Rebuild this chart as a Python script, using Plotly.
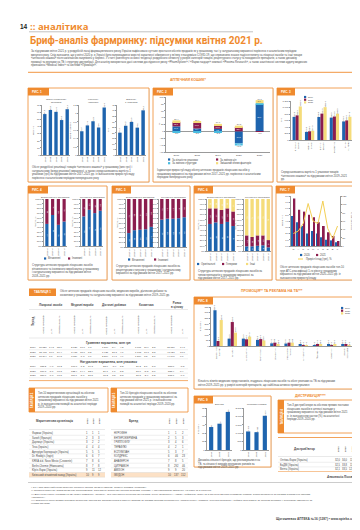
import textwrap
import plotly.graph_objects as go

W, H = 360, 530
FONT = "Liberation Sans"
ORANGE = "#EF8A2E"
ORANGE_LIGHT = "#FCE1C6"
BLUE = "#1E64AE"
MAROON = "#8B1D4E"
YELLOW = "#F5DC7A"
TEAL = "#49BCE0"
TXT = "#4a4a4a"
AXC = "#9a9a9a"
GREY = "#c8c8c8"

# ---------------- DATA ----------------
fig1_years = ["2017", "2018", "2019", "2020", "2021"]
fig1a_values = [57.3, 63.0, 60.4, 48.9, 64.1]
fig1b_values = [0.57, 0.71, 0.81, 0.66, 1.14]
fig1c_values = [20.1, 26.3, 29.8, 24.6, 40.2]

fig2_years = ["2017", "2018", "2019", "2020", "2021"]
fig2_natural = [14.6, 8.4, 7.2, -34.8, 78.6]
fig2_inflation = [12.1, 16.3, 10.5, 12.4, -1.8]
fig2_structure = [-2.6, -3.1, -2.2, -6.3, 3.4]
fig2_mixed = [5.3, 4.8, 4.1, 4.2, 8.9]
fig2_legend = ["За кількістю упаковок", "За зміною цін", "За зміною структури", "Змішаний вплив факторів"]

fig3_cats = ["Лікарські<br>засоби", "Медичні<br>вироби", "Дієтичні<br>добавки", "Косметика", "Ринок<br>в цілому"]
fig3_series = ["2019", "2020", "2021"]
fig3_2019 = [712, 248, 708, 688, 571]
fig3_2020 = [758, 268, 812, 722, 603]
fig3_2021 = [1032, 284, 1011, 809, 714]

fig4_years = ["2018 р.", "2019 р.", "2020 р.", "2021 р."]
fig4a_domestic = [47, 66, 45, 52]
fig4b_domestic = [63, 77, 70, 75]
fig45_legend = ["Вітчизняні", "Іноземні"]

fig5_years = ["2017 р.", "2018 р.", "2019 р.", "2020 р.", "2021 р."]
fig5a_domestic = [29, 35, 36, 37, 42]
fig5b_domestic = [57, 59, 59, 60, 62]

fig6_years = ["2017 р.", "2018 р.", "2019 р.", "2020 р.", "2021 р."]
fig6a_s1 = [52, 55, 52, 56, 48]
fig6a_s2 = [30, 27, 27, 26, 28]
fig6b_s1 = [9, 9, 10, 11, 7]
fig6b_s2 = [21, 18, 20, 19, 14]
fig6_legend = ["Оригінальні", "Генерики", "Інші"]

fig7_cats = ["N", "A", "R", "C", "M", "J", "G", "D", "B", "L"]
fig7_2020 = [4.8, 3.8, 3.2, 2.0, 2.4, 2.0, 1.4, 1.0, 0.9, 0.6]
fig7_2021 = [7.6, 5.8, 5.5, 5.0, 4.6, 3.8, 3.2, 2.2, 1.6, 0.8]
fig7_growth = [30, 36, 54, 102, 60, 54, 108, 42, 18, 48]

fig8_cats = ["Засоби від<br>застуди", "Вітаміни", "Анальгетики", "Противірусні", "Пробіотики",
             "Гепатопро-<br>тектори", "Антисептики", "Ферменти", "Седативні", "Засоби<br>від кашлю"]
fig8_2019 = [321, 66, 66, 55, 24, 22, 18, 8, 12, 12]
fig8_2020 = [45, 215, 60, 62, 30, 30, 6, 14, 8, 10]
fig8_2021 = [233, 120, 84, 50, 15, 30, 4, 18, 12, 8]

fig9_years = ["2019", "2020", "2021"]
fig9a_values = [41, 47, 68]
fig9b_values = [1104, 1062, 2037]

tab1_groups = ["Лікарські засоби", "Медичні вироби", "Дієтичні добавки", "Косметика", "Ринок<br>в цілому"]
tab1_sub = ["Обсяг продажів", "Δ, %", "Питома вага, %"]
tab1_uah = [
    ["2019", "30 526", "14,8", "85,6", "2 620", "10,6", "7,3", "1 509", "8,4", "4,2", "1 001", "11,9", "2,8", "35 656", "14,1"],
    ["2020", "35 405", "16,0", "84,4", "3 433", "31,0", "8,2", "1 921", "27,3", "4,6", "1 168", "16,7", "2,8", "41 927", "17,6"],
    ["2021", "37 894", "7,0", "84,8", "3 389", "-1,3", "7,6", "2 204", "14,7", "4,9", "1 209", "3,5", "2,7", "44 696", "6,6"],
]
tab1_packs = [
    ["2019", "388,2", "-4,6", "70,2", "107,0", "-1,2", "19,3", "28,6", "-3,9", "5,2", "29,2", "2,1", "5,3", "553,0", "-3,5"],
    ["2020", "376,3", "-3,1", "67,8", "122,4", "14,4", "22,0", "29,1", "1,7", "5,2", "27,6", "-5,5", "5,0", "555,4", "0,4"],
    ["2021", "350,0", "-7,0", "67,5", "111,7", "-8,7", "21,5", "30,2", "3,8", "5,8", "26,8", "-2,9", "5,2", "518,7", "-6,6"],
]

tab_years = ["2021", "2020", "2019"]
tab2_names = ["Фармак (Україна)", "Sanofi (Франція)", "Дарниця (Україна)", "Teva (Ізраїль)",
              "Артеріум Корпорація (Україна)", "Dr. Reddy's (Індія)", "KRKA d.d. Novo Mesto (Словенія)",
              "Berlin-Chemie (Німеччина)", "Юрія-Фарм (Україна)", "Київський вітамінний завод (Україна)"]
tab2_c1 = [1, 2, 3, 4, 5, 6, 7, 8, 9, 10]
tab2_c2 = [1, 3, 2, 4, 5, 6, 8, 7, 11, 9]
tab2_c3 = [1, 3, 2, 4, 5, 7, 6, 8, 12, 9]

tab3_names = ["НУРОФЕН", "ЕНТЕРОЖЕРМІНА", "ГРИППОФЛУ", "ТЕРАФЛЮ", "ЕСПУМІЗАН",
              "КОЛДРЕКС", "АНАФЕРОН", "ЦИТРАМОН", "АМІЗОН", "ІМУДОН"]
tab3_c1 = [1, 2, 3, 4, 5, 6, 7, 8, 9, 10]
tab3_c2 = [1, 5, 4, 2, 3, 46, 8, 292, 9, 137]
tab3_c3 = [2, 3, 6, 1, 7, 23, 5, 46, 20, 152]

tab4_names = ["Оптіма-Фарм (Україна)", "БаДМ (Україна)", "Вента (Україна)"]
tab4_c1 = ["32,0", "32,5", "32,1"]
tab4_c2 = ["34,0", "33,8", "33,5"]
tab4_c3 = ["11,1", "11,8", "12,0"]

# ---------------- TEXTS ----------------
intro = ("За підсумками квітня 2021 р. у роздрібній ланці фармацевтичного ринку України зафіксовано суттєве зростання "
         "обсягів продажів як у грошовому, так і у натуральному вираженні порівняно з аналогічним періодом минулого року. "
         "Слід зазначити, що у квітні 2020 р. в Україні було запроваджено жорсткі карантинні обмеження у зв'язку з пандемією "
         "COVID-19, що спричинило значне падіння попиту на лікарські засоби та інші товари «аптечного кошика» після ажіотажних "
         "закупівель у березні. У статті розглянуто основні тенденції роздрібного сегменту у розрізі категорій товарів, "
         "рецептурного статусу та походження препаратів, а також динаміку промоції та реклами на ТБ і структуру дистрибуції. "
         "Для аналізу використано дані системи дослідження ринку «PharmXplorer» / «Фармстандарт» компанії «Proxima Research», "
         "а також аналітичної системи аудиту медичних призначень «Medical Index» та системи «Промоція».")
cap1 = ("Обсяг роздрібної реалізації товарів «аптечного кошика» у грошовому (млн грн) і натуральному (млрд упаковок) "
        "вираженні, а також середньозважена вартість 1 упаковки (грн) за підсумками квітня 2017–2021 рр. із зазначенням "
        "приросту/спаду порівняно з аналогічним періодом попереднього року")
cap2 = ("Індикатори приросту/спаду обсягу аптечних продажів лікарських засобів у грошовому вираженні за підсумками квітня "
        "2017–2021 рр. порівняно з аналогічним періодом попереднього року")
cap3 = ("Середньозважена вартість 1 упаковки товарів «аптечного кошика» за підсумками квітня 2019–2021 рр.")
cap4 = ("Структура аптечних продажів лікарських засобів вітчизняного та іноземного виробництва у грошовому і натуральному "
        "вираженні за підсумками квітня 2018–2021 рр.")
cap5 = ("Структура аптечних продажів лікарських засобів за рецептурним статусом у грошовому і натуральному вираженні "
        "за підсумками квітня 2017–2021 рр.")
cap6 = ("Структура аптечних продажів лікарських засобів за типом препаратів у грошовому вираженні за підсумками квітня "
        "2017–2021 рр.")
cap7 = ("Обсяг аптечних продажів лікарських засобів топ-10 груп АТС-класифікації 1-го рівня у грошовому вираженні "
        "за підсумками квітня 2020–2021 рр. із зазначенням приросту/спаду")
cap8 = ("Кількість візитів медичних представників, згадувань лікарських засобів та обсяг реклами на ТБ за підсумками "
        "квітня 2019–2021 рр. у розрізі категорій препаратів, що найбільш активно промотувалися")
cap9 = ("Динаміка кількості брендів, що рекламувалися на ТБ, та кількості виходів рекламних роликів за підсумками "
        "квітня 2019–2021 рр.")
tab1_title = ("Обсяг аптечних продажів лікарських засобів, медичних виробів, дієтичних добавок та косметики у грошовому "
              "та натуральному вираженні за підсумками квітня 2019–2021 рр.")
tab2_note = ("Топ-10 маркетингових організацій за обсягом аптечних продажів лікарських засобів у грошовому вираженні "
             "за підсумками квітня 2021 р. із зазначенням позицій за аналогічні періоди 2019–2020 рр.")
tab3_note = ("Топ-10 брендів лікарських засобів за обсягом аптечних продажів у грошовому вираженні за підсумками "
             "квітня 2021 р. із зазначенням позицій за аналогічні періоди 2019–2020 рр.")
tab4_note = ("Топ-3 дистриб'ютори за обсягом прямих поставок лікарських засобів в аптечні заклади у грошовому "
             "вираженні за підсумками квітня 2021 р. із зазначенням частки (%) за аналогічні періоди 2019–2020 рр.")
footnotes = [
    "* Тут і далі аптечний кошик включає: лікарські засоби, медичні вироби, дієтичні добавки, косметику.",
    "** Промоція включає: візити медичних представників, згадування лікарських засобів лікарями, рекламу у спеціалізованих виданнях, на радіо та в інтернеті.",
    "*** Дані щодо обсягу реклами на ТБ надані компанією «Nielsen», без урахування регіональних каналів; оцінку проведено у «сирих» рейтингах (GRP) "
    "та в кількості виходів рекламних роликів; аналіз проведено за даними аналітичної системи «Промоція».",
    "**** Зазначено обсяг прямих поставок лікарських засобів від дистриб'юторів в аптечні заклади за даними системи дослідження «PharmXplorer» "
    "компанії «Proxima Research»; рейтинг побудовано за обсягом поставок у грошовому вираженні за цінами закупівлі.",
]

# ---------------- HELPERS ----------------
fig = go.Figure()
shapes, annotations, axes_layout = [], [], {}
n_axes = [0]


def X(p):
    return p / W


def Y(p):
    return 1 - p / H


def text(x, y, s, size=2.8, color=TXT, xa="left", ya="top", angle=0, family=FONT, align="left"):
    annotations.append(dict(x=X(x), y=Y(y), xref="paper", yref="paper", text=s, showarrow=False,
                            font=dict(size=size, color=color, family=family), xanchor=xa, yanchor=ya,
                            textangle=angle, align=align, borderpad=0))


def para(x, y, width, s, size=2.8, color=TXT, factor=0.53):
    n = max(10, int(width / (size * factor)))
    text(x, y, "<br>".join(textwrap.wrap(s, n)), size=size, color=color)


def rect(x0, y0, x1, y1, line=None, fill=None, lw=0.7, layer="below"):
    shapes.append(dict(type="rect", xref="paper", yref="paper", x0=X(x0), x1=X(x1), y0=Y(y1), y1=Y(y0),
                       line=dict(color=line if line else "rgba(0,0,0,0)", width=lw if line else 0),
                       fillcolor=fill if fill else "rgba(0,0,0,0)", layer=layer))


def hline(x0, x1, y, color=GREY, lw=0.4):
    shapes.append(dict(type="line", xref="paper", yref="paper", x0=X(x0), x1=X(x1), y0=Y(y), y1=Y(y),
                       line=dict(color=color, width=lw)))


def box(x0, y0, x1, y1, label=None, tabw=20):
    rect(x0 + 0.8, y0 + 0.8, x1 + 0.8, y1 + 0.8, fill="#e6e6e6")
    rect(x0, y0, x1, y1, line=ORANGE, fill="white", lw=0.8)
    if label:
        rect(x0, y0, x0 + tabw, y0 + 7.5, fill=ORANGE)
        text(x0 + 2.5, y0 + 3.9, "<b>" + label + "</b>", size=3, color="white", ya="middle")


def legend_item(x, y, color, label, size=2.6):
    rect(x, y - 1.1, x + 2.2, y + 1.1, fill=color)
    text(x + 3, y, label, size=size, ya="middle")


def make_axes(x0, x1, y0, y1, xkw=None, ykw=None):
    n_axes[0] += 1
    n = n_axes[0]
    sx = "" if n == 1 else str(n)
    tf = dict(size=2.5, color=TXT, family=FONT)
    xa = dict(domain=[X(x0), X(x1)], anchor="y" + sx, type="category", showgrid=False, zeroline=False,
              showline=True, linecolor=AXC, linewidth=0.5, ticks="", tickfont=tf, fixedrange=True,
              tickangle=-90, automargin=False)
    ya = dict(domain=[Y(y1), Y(y0)], anchor="x" + sx, showgrid=False, zeroline=False, showline=True,
              linecolor=AXC, linewidth=0.5, ticks="outside", ticklen=1, tickwidth=0.4, tickcolor=AXC,
              tickfont=tf, fixedrange=True, automargin=False, separatethousands=True)
    if xkw:
        xa.update(xkw)
    if ykw:
        ya.update(ykw)
    axes_layout["xaxis" + sx] = xa
    axes_layout["yaxis" + sx] = ya
    return "x" + sx, "y" + sx


def fmt(v, d=1):
    return f"{v:.{d}f}".replace(".", ",")


def bar(xr, yr, xs, ys, color, width, offset=None, base=None, labels=None, pos="outside",
        tsize=2.2, tcolor=TXT, angle=-90):
    fig.add_trace(go.Bar(x=xs, y=ys, xaxis=xr, yaxis=yr, marker=dict(color=color, line=dict(width=0)),
                         width=width, offset=offset, base=base, text=labels,
                         textposition=pos if labels is not None else "none", textangle=angle,
                         insidetextanchor="middle",
                         textfont=dict(size=tsize, color=tcolor, family=FONT), constraintext="none",
                         cliponaxis=False, showlegend=False, hoverinfo="skip"))


def stack(xr, yr, cats, series, colors, width, labels=True):
    base = [0] * len(cats)
    for vals, col in zip(series, colors):
        bar(xr, yr, cats, vals, col, width, base=list(base),
            labels=[str(v) if (labels and v >= 8) else "" for v in vals], pos="inside", tsize=2.0,
            tcolor="white")
        base = [b + v for b, v in zip(base, vals)]


# ---------------- HEADER ----------------
text(11, 18.5, "<b>14</b>", size=6.5, color="#222", ya="middle")
text(21, 18.3, "<b>:: аналітика</b>", size=9.5, color=ORANGE, ya="middle", family="Open Sans")
hline(21, 245, 23.8, color="#999", lw=0.6)
text(21, 32.5, "<b>Бриф-аналіз фармринку: підсумки квітня 2021 р.</b>", size=10, color=ORANGE, ya="middle",
     family="Roboto")
para(22, 39.5, 322, intro, size=2.7, factor=0.56)
hline(20, 347, 64.3, color=ORANGE, lw=0.9)
text(180, 72, "<b>АПТЕЧНИЙ КОШИК*</b>", size=3.6, color=ORANGE, xa="center", ya="middle")

# ---------------- FIG 1 ----------------
box(20, 80, 141, 174, "РИС. 1", tabw=21)
f1 = [
    (34, 62, fig1a_values, [0, 70], 10, "Обсяг роздрібних<br>продажів", "Млн грн", 1),
    (71, 99, fig1b_values, [0, 1.2], 0.2, "Кількість<br>упаковок", "Млрд упаковок", 2),
    (109, 138, fig1c_values, [0, 45], 5, "Вартість<br>1 упаковки", "Грн", 1),
]
for x0, x1, vals, rng, dt, ttl, ytl, dd in f1:
    xr, yr = make_axes(x0, x1, 97, 147, ykw=dict(range=rng, dtick=dt))
    bar(xr, yr, fig1_years, vals, BLUE, 0.6, labels=[fmt(v, dd) for v in vals])
    text((x0 + x1) / 2, 88.5, ttl, size=2.5, xa="center", align="center")
    text(x0 - 8, 122, ytl, size=2.4, xa="center", ya="middle", angle=-90)
para(23, 155.5, 115, cap1, size=2.7)

# ---------------- FIG 2 ----------------
box(145, 80, 265, 174, "РИС. 2", tabw=20)
xr, yr = make_axes(158, 262, 89, 144,
                   ykw=dict(range=[-60, 100], dtick=20, zeroline=True, zerolinecolor=AXC, zerolinewidth=0.5))
pos_b = [0.0] * 5
neg_b = [0.0] * 5
for vals, col, tc in zip([fig2_natural, fig2_inflation, fig2_structure, fig2_mixed],
                         [BLUE, MAROON, TEAL, YELLOW], ["white", "white", "white", TXT]):
    base = []
    for i, v in enumerate(vals):
        if v >= 0:
            base.append(pos_b[i])
            pos_b[i] += v
        else:
            base.append(neg_b[i])
            neg_b[i] += v
    bar(xr, yr, fig2_years, vals, col, 0.38, base=base,
        labels=[fmt(v) if abs(v) >= 6 else "" for v in vals], pos="inside", tsize=2.0, tcolor=tc, angle=0)
totals = [a + b + c + d for a, b, c, d in zip(fig2_natural, fig2_inflation, fig2_structure, fig2_mixed)]
fig.add_trace(go.Scatter(x=fig2_years, y=pos_b, xaxis=xr, yaxis=yr, mode="text",
                         text=[fmt(t) for t in totals], textposition="top center",
                         textfont=dict(size=2.2, color=TXT, family=FONT), showlegend=False, hoverinfo="skip",
                         cliponaxis=False))
fig.add_trace(go.Scatter(x=fig2_years, y=neg_b, xaxis=xr, yaxis=yr, mode="text",
                         text=[fmt(t) for t in neg_b], textposition="bottom center",
                         textfont=dict(size=2.2, color=TXT, family=FONT), showlegend=False, hoverinfo="skip",
                         cliponaxis=False))
axes_layout["xaxis" + xr[1:]].update(tickangle=0)
text(152, 116, "%", size=2.5, xa="center", ya="middle", angle=-90)
legend_item(160, 151.5, BLUE, fig2_legend[0])
legend_item(208, 151.5, MAROON, fig2_legend[1])
legend_item(160, 155.2, TEAL, fig2_legend[2])
legend_item(208, 155.2, YELLOW, fig2_legend[3])
para(148, 158.8, 114, cap2, size=2.7)

# ---------------- FIG 3 ----------------
box(269, 80, 347, 174, "РИС. 3", tabw=18)
xr, yr = make_axes(283, 345, 93, 132, ykw=dict(range=[0, 1200], dtick=200))
for i, (vals, col) in enumerate(zip([fig3_2019, fig3_2020, fig3_2021], [BLUE, MAROON, YELLOW])):
    bar(xr, yr, fig3_cats, vals, col, 0.25, offset=-0.375 + i * 0.25, labels=[fmt(v, 1) for v in vals],
        tsize=2.0)
axes_layout["xaxis" + xr[1:]].update(tickfont=dict(size=2.3, color=TXT, family=FONT))
text(274, 112, "Грн", size=2.4, xa="center", ya="middle", angle=-90)
for i, (s, c) in enumerate(zip(fig3_series, [BLUE, MAROON, YELLOW])):
    legend_item(296, 89 + i * 2.7, c, s, size=2.3)
para(272, 160.5, 72, cap3, size=2.7)

# ---------------- FIG 4 ----------------
box(20, 178, 99, 272, "РИС. 4", tabw=20)
pct = dict(range=[0, 100], dtick=10, ticksuffix="%")
for x0, x1, dom, ttl in [(36, 59, fig4a_domestic, "Безрецептурні препарати"),
                         (73, 95, fig4b_domestic, "Рецептурні препарати")]:
    xr, yr = make_axes(x0, x1, 191, 238, ykw=pct)
    stack(xr, yr, fig4_years, [dom, [100 - d for d in dom]], [BLUE, MAROON], 0.55)
    text((x0 + x1) / 2, 186.5, ttl, size=2.4, xa="center")
    text(x0 - 9, 214, "Частка, %", size=2.3, xa="center", ya="middle", angle=-90)
legend_item(36, 250.5, BLUE, fig45_legend[0])
legend_item(60, 250.5, MAROON, fig45_legend[1])
para(23, 254, 73, cap4, size=2.7)

# ---------------- FIG 5 ----------------
box(104, 178, 182, 272, "РИС. 5", tabw=19)
for x0, x1, dom, ttl in [(118, 146, fig5a_domestic, "Безрецептурні препарати"),
                         (151, 179, fig5b_domestic, "Рецептурні препарати")]:
    xr, yr = make_axes(x0, x1, 191, 239, ykw=pct)
    stack(xr, yr, fig5_years, [dom, [100 - d for d in dom]], [BLUE, MAROON], 0.6)
    text((x0 + x1) / 2, 186.5, ttl, size=2.4, xa="center")
    text(x0 - 9, 214, "Частка, %", size=2.3, xa="center", ya="middle", angle=-90)
legend_item(120, 251.5, BLUE, fig45_legend[0])
legend_item(146, 251.5, MAROON, fig45_legend[1])
para(107, 255, 72, cap5, size=2.7)

# ---------------- FIG 6 ----------------
box(186, 178, 264, 272, "РИС. 6", tabw=19)
for x0, x1, s1, s2, ttl in [(199, 228, fig6a_s1, fig6a_s2, "Безрецептурні препарати"),
                            (236, 263, fig6b_s1, fig6b_s2, "Рецептурні препарати")]:
    s3 = [100 - a - b for a, b in zip(s1, s2)]
    xr, yr = make_axes(x0, x1, 191, 243, ykw=pct)
    stack(xr, yr, fig6_years, [s1, s2, s3], [BLUE, MAROON, YELLOW], 0.62)
    text((x0 + x1) / 2, 186.5, ttl, size=2.4, xa="center")
    text(x0 - 9, 217, "Частка, %", size=2.3, xa="center", ya="middle", angle=-90)
legend_item(189, 256, BLUE, fig6_legend[0])
legend_item(214, 256, MAROON, fig6_legend[1])
legend_item(238, 256, YELLOW, fig6_legend[2])
para(189, 259.5, 73, cap6, size=2.7)

# ---------------- FIG 7 ----------------
box(268, 178, 347, 272, "РИС. 7", tabw=19)
xr, yr = make_axes(283, 332, 188, 238, xkw=dict(tickangle=0), ykw=dict(range=[0, 8], dtick=1, tickformat=".1f"))
bar(xr, yr, fig7_cats, fig7_2020, BLUE, 0.38, offset=-0.38)
bar(xr, yr, fig7_cats, fig7_2021, MAROON, 0.38, offset=0.0)
n_axes[0] += 1
y2 = "y" + str(n_axes[0])
axes_layout["yaxis" + str(n_axes[0])] = dict(
    domain=[Y(238), Y(188)], anchor=xr, overlaying=yr, side="right", range=[0, 120], dtick=20,
    showgrid=False, zeroline=False, showline=True, linecolor=AXC, linewidth=0.5, ticks="outside", ticklen=1,
    tickwidth=0.4, tickcolor=AXC, tickfont=dict(size=2.5, color=TXT, family=FONT), fixedrange=True,
    automargin=False)
fig.add_trace(go.Scatter(x=fig7_cats, y=fig7_growth, xaxis=xr, yaxis=y2, mode="lines",
                         line=dict(color="#F3CF55", width=1), showlegend=False, hoverinfo="skip"))
text(274, 213, "Млрд грн", size=2.4, xa="center", ya="middle", angle=-90)
text(343, 213, "Приріст/спад, %", size=2.4, xa="center", ya="middle", angle=-90)
legend_item(292, 247, BLUE, "2020")
legend_item(308, 247, MAROON, "2021")
shapes.append(dict(type="line", xref="paper", yref="paper", x0=X(290), x1=X(295), y0=Y(251), y1=Y(251),
                   line=dict(color="#F3CF55", width=1)))
text(296.5, 251, "Приріст/спад (грн), %", size=2.6, ya="middle")
para(271, 256, 73, cap7, size=2.7)

# ---------------- TABLE 1 ----------------
rect(21, 280.5, 48, 288, fill=ORANGE)
text(34.5, 284.3, "<b>ТАБЛИЦЯ 1</b>", size=3, color="white", xa="center", ya="middle")
para(51, 280.3, 128, tab1_title, size=2.7)
tab1_x = [25, 35, 43, 51, 66, 74, 82, 98, 106, 114, 130, 138, 146, 163, 174]
grp_x = [43, 74, 106, 138, 168.5]
for gx, g in zip(grp_x, tab1_groups):
    text(gx, 297, "<b>" + g + "</b>", size=2.8, xa="center", ya="middle", align="center")
text(25, 314, "<b>Період</b>", size=2.7, xa="center", ya="middle", angle=-90)
for gi in range(5):
    nsub = 3 if gi < 4 else 2
    for si in range(nsub):
        cx = tab1_x[1 + gi * 3 + si]
        text(cx, 327, tab1_sub[si], size=2.5, xa="center", ya="bottom", angle=-90)
hline(21, 180, 301.5, color=GREY)
hline(21, 180, 330, color=GREY)
text(100, 334.5, "<b>Гривневе вираження, млн грн</b>", size=3, xa="center", ya="middle")
for ri, row in enumerate(tab1_uah):
    yy = 339.5 + ri * 4.5
    for cx, v in zip(tab1_x, row):
        text(cx, yy, v, size=2.5, xa="center", ya="middle")
    hline(21, 180, yy + 2.25, color=GREY, lw=0.3)
text(100, 353.5, "<b>Натуральне вираження, млн упаковок</b>", size=3, xa="center", ya="middle")
for ri, row in enumerate(tab1_packs):
    yy = 358.5 + ri * 4.5
    for cx, v in zip(tab1_x, row):
        text(cx, yy, v, size=2.5, xa="center", ya="middle")
    hline(21, 180, yy + 2.25, color=GREY, lw=0.3)
hline(21, 180, 372.6, color=ORANGE, lw=0.7)

# ---------------- FIG 8 ----------------
text(264, 283, "<b>ПРОМОЦІЯ** ТА РЕКЛАМА НА ТБ***</b>", size=3.5, color=ORANGE, xa="center", ya="middle")
box(186, 289, 347, 381, "РИС. 8", tabw=19)
xr, yr = make_axes(203, 345, 299, 338, ykw=dict(range=[0, 350], dtick=50))
for i, (vals, col) in enumerate(zip([fig8_2019, fig8_2020, fig8_2021], [BLUE, MAROON, YELLOW])):
    bar(xr, yr, fig8_cats, vals, col, 0.22, offset=-0.33 + i * 0.22, labels=[fmt(v, 1) for v in vals],
        tsize=2.0)
axes_layout["xaxis" + xr[1:]].update(tickfont=dict(size=2.3, color=TXT, family=FONT))
text(192, 318, "Кількість", size=2.4, xa="center", ya="middle", angle=-90)
for i, (s, c) in enumerate(zip(fig3_series, [BLUE, MAROON, YELLOW])):
    legend_item(333, 300 + i * 2.7, c, s, size=2.3)
para(189, 370, 154, cap8, size=2.7)

# ---------------- TABLES 2 & 3 ----------------
def note_box(x0, y0, x1, y1, label, s):
    rect(x0, y0, x1, y1, line=ORANGE, lw=0.8)
    rect(x0, y0, x0 + 6, y1, fill=ORANGE)
    text(x0 + 3, (y0 + y1) / 2, "<b>" + label + "</b>", size=2.7, color="white", xa="center", ya="middle",
         angle=-90)
    para(x0 + 8, y0 + 2, x1 - x0 - 11, s, size=2.7)


note_box(21, 380, 100, 404, "ТАБЛИЦЯ 2", tab2_note)
note_box(103, 380, 180, 404, "ТАБЛИЦЯ 3", tab3_note)


def rank_table(x0, x1, name_x, head_x, head, cols_x, names, cols):
    text(head_x, 413, "<b>" + head + "</b>", size=2.9, xa="center", ya="middle")
    for cx, yv in zip(cols_x, tab_years):
        text(cx, 413, "<b>" + yv + "</b>", size=2.5, xa="center", ya="middle", angle=-90)
    hline(x0, x1, 421.5, color=GREY)
    for ri, nm in enumerate(names):
        yy = 425 + ri * 4.65
        if ri == len(names) - 1:
            rect(x0, yy - 2.3, x1, yy + 2.3, fill=ORANGE_LIGHT)
        text(name_x, yy, nm, size=2.6, ya="middle")
        for cx, col in zip(cols_x, cols):
            text(cx, yy, str(col[ri]), size=2.6, xa="center", ya="middle")
        hline(x0, x1, yy + 2.3, color=GREY, lw=0.3)


rank_table(21, 97, 22.5, 46, "Маркетингова організація", [79, 85, 91], tab2_names, [tab2_c1, tab2_c2, tab2_c3])
rank_table(103, 180, 105, 126, "Бренд", [161, 168, 175], tab3_names, [tab3_c1, tab3_c2, tab3_c3])

# ---------------- FIG 9 ----------------
box(186, 388, 263, 459, "РИС. 9", tabw=19)
for x0, x1, vals, rng, dt, ttl in [(199, 224, fig9a_values, [0, 75], 15, "Бренди"),
                                   (236, 261, fig9b_values, [0, 2500], 500, "Рекламні ролики")]:
    xr, yr = make_axes(x0, x1, 400, 442, ykw=dict(range=rng, dtick=dt))
    bar(xr, yr, fig9_years, vals, BLUE, 0.5, labels=[f"{v:,}".replace(",", " ") for v in vals], tsize=2.2)
    text((x0 + x1) / 2, 396.5, ttl, size=2.5, xa="center", ya="middle")
text(190, 421, "Кількість", size=2.4, xa="center", ya="middle", angle=-90)
para(189, 448.5, 72, cap9, size=2.7)

# ---------------- DISTRIBUTION ----------------
text(302, 388, "<b>ДИСТРИБУЦІЯ****</b>", size=3.5, color=ORANGE, xa="center", ya="middle")
note_box(270, 392, 347, 425, "ТАБЛИЦЯ 4", tab4_note)
hline(270, 347, 429.5, color=ORANGE, lw=0.8)
text(296, 441, "<b>Дистриб'ютор</b>", size=3, xa="center", ya="middle")
for cx, yv in zip([330, 337, 344], tab_years):
    text(cx, 441, "<b>" + yv + "</b>", size=2.5, xa="center", ya="middle", angle=-90)
hline(270, 347, 448.5, color=GREY)
for ri, nm in enumerate(tab4_names):
    yy = 452 + ri * 4.6
    text(271, yy, nm, size=2.6, ya="middle")
    for cx, col in zip([330, 337, 344], [tab4_c1, tab4_c2, tab4_c3]):
        text(cx, yy, col[ri], size=2.6, xa="center", ya="middle")
    hline(270, 347, yy + 2.3, color=ORANGE if ri == 2 else GREY, lw=0.5 if ri == 2 else 0.3)
text(347, 468.5, "<b><i>Анастасія Лісова</i></b>", size=3, xa="right", ya="middle")

# ---------------- FOOTER ----------------
hline(20, 347, 474.5, color="#999", lw=0.5)
fy = 477
for fn in footnotes:
    lines = textwrap.wrap(fn, int(322 / (2.5 * 0.55)))
    text(22, fy, "<br>".join(lines), size=2.5)
    fy += 3.35 * len(lines)
text(347, 511, "<b>Щотижневик АПТЕКА №16 (1287) • www.apteka.ua</b>", size=3.2, xa="right", ya="middle")

fig.update_layout(
    template="none", width=W, height=H, margin=dict(l=0, r=0, t=0, b=0),
    paper_bgcolor="white", plot_bgcolor="rgba(0,0,0,0)", barmode="overlay", separators=", ",
    showlegend=False, shapes=shapes, annotations=annotations, font=dict(family=FONT, size=3, color=TXT),
    **axes_layout)
fig.write_html("out.html")
